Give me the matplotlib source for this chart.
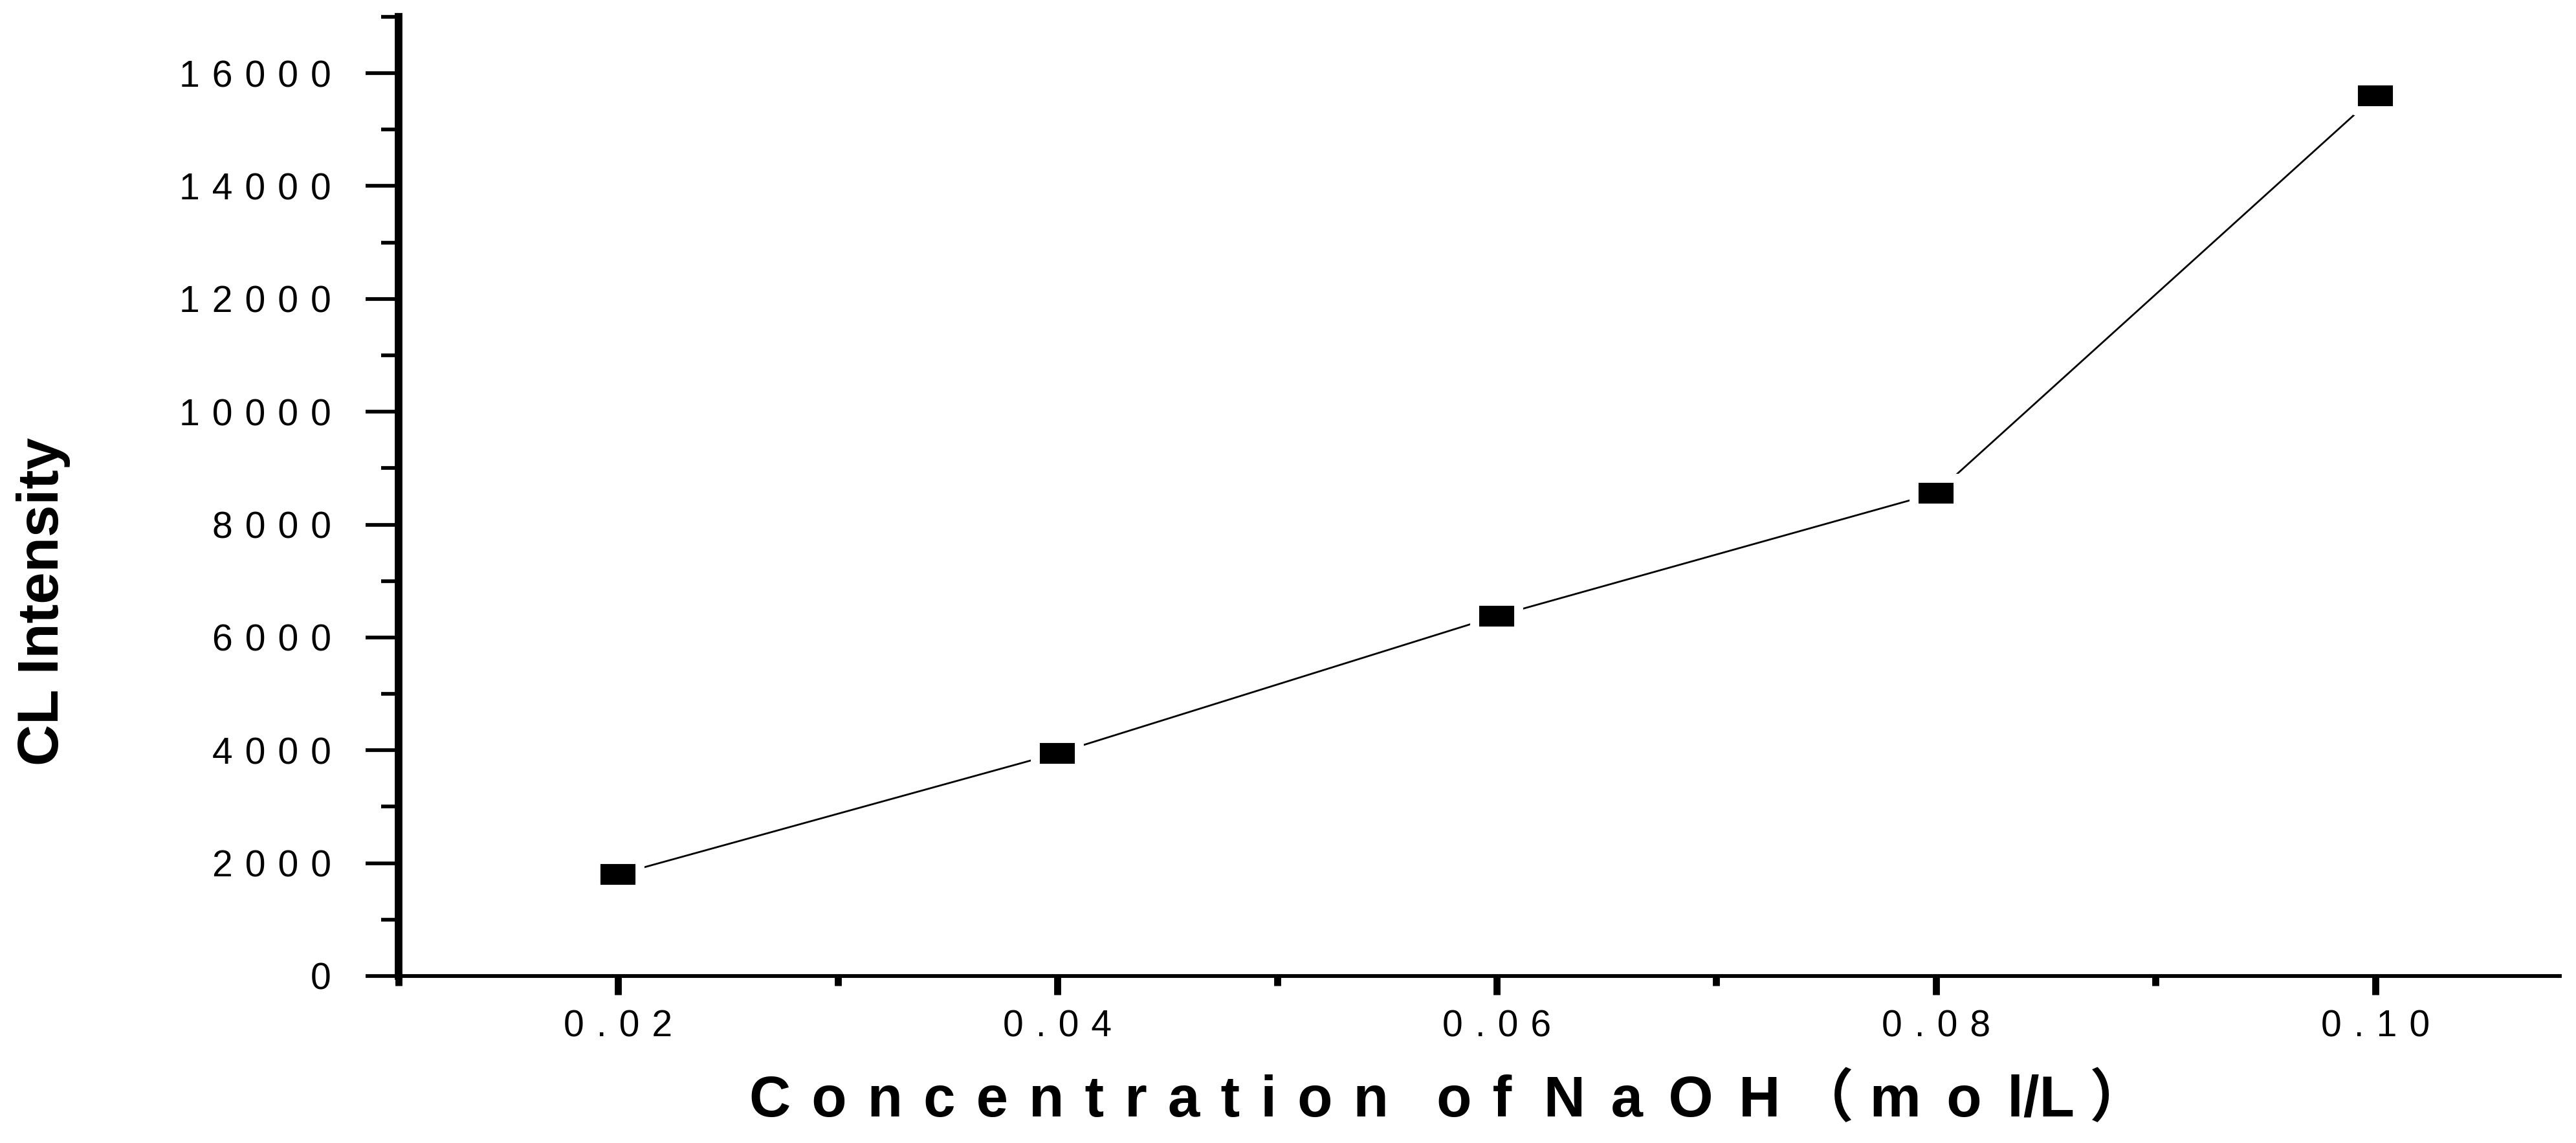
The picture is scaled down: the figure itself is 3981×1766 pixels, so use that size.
import matplotlib
matplotlib.use("Agg")
import matplotlib.pyplot as plt
from matplotlib.ticker import FixedLocator, FixedFormatter, MultipleLocator

# data
conc = [0.02, 0.04, 0.06, 0.08, 0.10]
intensity = [1800, 3950, 6380, 8560, 15600]

x_ticks = [0.02, 0.04, 0.06, 0.08, 0.10]
x_tick_labels = ['0.02', '0.04', '0.06', '0.08', '0.10']
y_ticks = [0, 2000, 4000, 6000, 8000, 10000, 12000, 14000, 16000]
y_tick_labels = ['0', '2000', '4000', '6000', '8000',
                 '10000', '12000', '14000', '16000']

# the original uses wide letter spacing everywhere
TRACK = '\u2004'          # three-per-em space for the tick labels
NARROW = ' \u200a'        # letter gap in "Concentration of"
WIDE = ' \u2006'          # letter gap in "NaOH" and "mol"
WORD = '   '


def spaced(s, sep):
    return sep.join(s)


x_label = (spaced('Concentration', NARROW) + WORD + spaced('of', NARROW) + '  '
           + spaced('NaOH', WIDE) + ' （ ' + spaced('mol', WIDE) + '/L ）')
y_label = 'CL Intensity'

plt.rcParams['font.family'] = ['Liberation Sans', 'DejaVu Sans']

fig = plt.figure(figsize=(39.81, 17.66), dpi=100)
ax = fig.add_axes([0.1547, 0.1461, 0.8390, 0.8392])

# flat rectangle marker, white rim leaves the little gap to the line
rect = [(-1, -0.685), (1, -0.685), (1, 0.685), (-1, 0.685), (-1, -0.685)]
ax.plot(conc, intensity, color='black', lw=2.0,
        marker=rect, ms=48.9, mfc='black', mec='white', mew=10)

ax.set_xlim(0.01, 0.1084)
ax.set_ylim(0, 17000)

ax.spines['top'].set_visible(False)
ax.spines['right'].set_visible(False)
ax.spines['left'].set_linewidth(8.5)
ax.spines['bottom'].set_linewidth(4.2)

ax.xaxis.set_major_locator(FixedLocator(x_ticks))
ax.xaxis.set_major_formatter(FixedFormatter([spaced(t, TRACK) for t in x_tick_labels]))
ax.xaxis.set_minor_locator(MultipleLocator(0.01))
ax.yaxis.set_major_locator(FixedLocator(y_ticks))
ax.yaxis.set_major_formatter(FixedFormatter([spaced(t, TRACK) for t in y_tick_labels]))
ax.yaxis.set_minor_locator(MultipleLocator(1000))

ax.tick_params(axis='x', which='major', direction='out', length=21, width=7.8,
               pad=16, labelsize=41)
ax.tick_params(axis='x', which='minor', direction='out', length=11, width=7.8)
ax.tick_params(axis='y', which='major', direction='out', length=37, width=4.1,
               pad=38, labelsize=41)
ax.tick_params(axis='y', which='minor', direction='out', length=19.5, width=4.1)

ax.set_xlabel(x_label, fontsize=64, fontweight='bold',
              family=['Liberation Sans', 'Noto Sans CJK SC', 'DejaVu Sans'],
              ha='center', va='baseline')
ax.xaxis.set_label_coords(0.4856, -0.1464)
ax.set_ylabel(y_label, fontsize=64, fontweight='bold', ha='center', va='center')
ax.yaxis.set_label_coords(-0.1644, 0.3907)

fig.savefig('out.png', dpi=100)
